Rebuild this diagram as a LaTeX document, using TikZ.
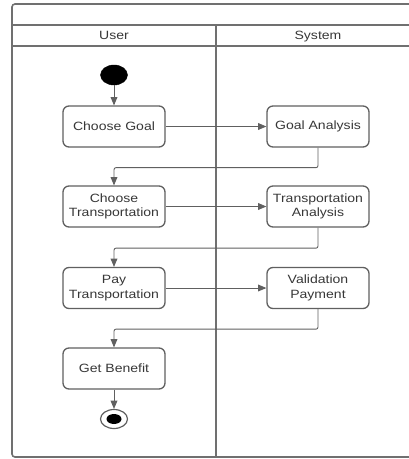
\documentclass[tikz,border=0pt]{standalone}
\usepackage{fontspec}
\setmainfont{Liberation Sans}[FakeStretch=1.17]
\usepackage{tikz}
\usetikzlibrary{shapes,arrows}

\definecolor{lanegray}{RGB}{112,112,112}
\definecolor{boxgray}{RGB}{96,96,96}
\definecolor{txtgray}{RGB}{55,55,55}

\begin{document}
\begin{tikzpicture}[x=1pt,y=-1pt]
\tikzstyle{act}=[draw=boxgray,line width=1.3pt,rounded corners=6pt,minimum width=102,minimum height=41,inner sep=1pt,align=center,text=txtgray,font=\fontsize{12}{14.3}\selectfont];
\tikzstyle{lane}=[draw=lanegray,line width=1.6pt];
\tikzstyle{hdr}=[text=txtgray,anchor=base,font=\fontsize{12}{14}\selectfont];
\tikzstyle{flow}=[draw=boxgray,line width=0.9pt,-triangle 45,rounded corners=2pt];
\useasboundingbox (0,0) rectangle (409,459);

\draw[lane,rounded corners=3pt] (409,4) -- (12,4) -- (12,457) -- (409,457);
\draw[lane] (12,25) -- (409,25);
\draw[lane] (12,46) -- (409,46);
\draw[lane] (216,25) -- (216,457);
\node[hdr] (user) at (114,39.5) {User};
\node[hdr] (system) at (318,39.5) {System};

\node[ellipse,fill=black,draw=black,minimum width=27,minimum height=20,inner sep=0] (start) at (114,75) {};
\node[act] (goal) at (114,126.5) {Choose Goal};
\node[act] (goalan) at (318,126.5) {Goal Analysis};
\node[act] (choosetr) at (114,206.5) {Choose\\Transportation};
\node[act] (tranan) at (318,206.5) {Transportation\\Analysis};
\node[act] (pay) at (114,288) {Pay\\Transportation};
\node[act] (valid) at (318,288) {Validation\\Payment};
\node[act] (benefit) at (114,368.5) {Get Benefit};
\node[ellipse,draw=boxgray,line width=1.2pt,minimum width=27,minimum height=19,inner sep=0] (finish) at (114,419) {};
\node[ellipse,fill=black,minimum width=15,minimum height=10,inner sep=0] (finishdot) at (finish) {};

\draw[flow] (start) -- (goal);
\draw[flow] (goal) -- (goalan);
\draw[flow] (goalan.south) -- ++(0,20) -| (choosetr.north);
\draw[flow] (choosetr) -- (tranan);
\draw[flow] (tranan.south) -- ++(0,20.5) -| (pay.north);
\draw[flow] (pay) -- (valid);
\draw[flow] (valid.south) -- ++(0,20) -| (benefit.north);
\draw[flow] (benefit) -- (finish);
\end{tikzpicture}
\end{document}
